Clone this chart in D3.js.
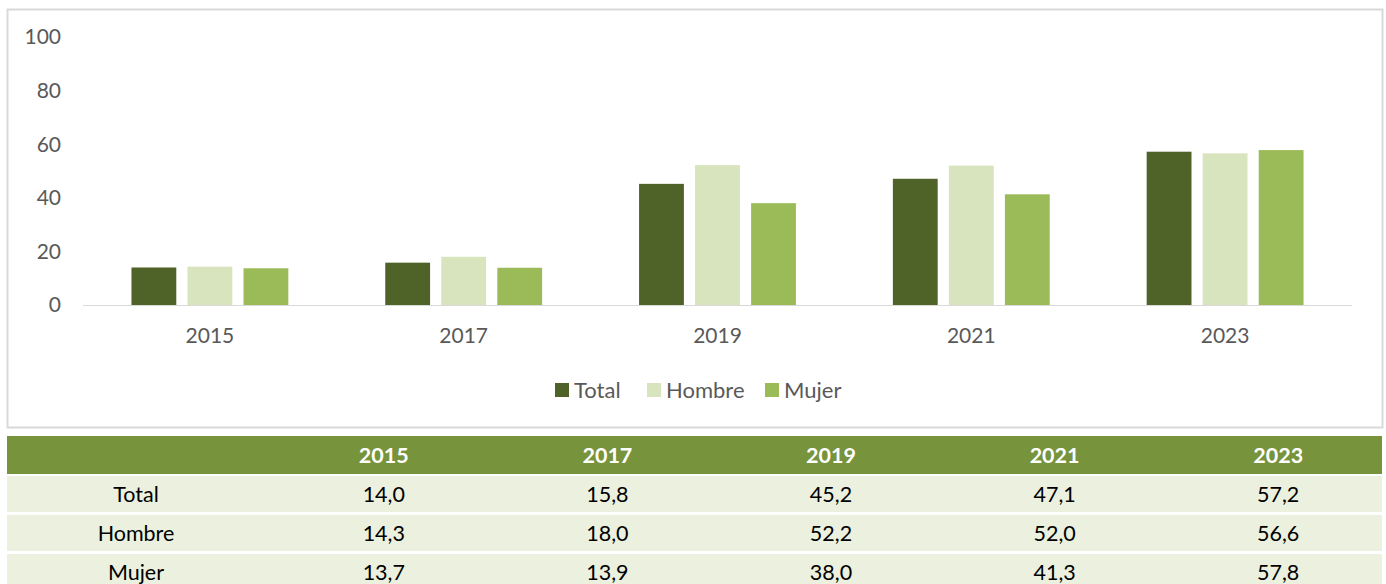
<!DOCTYPE html>
<meta charset="utf-8">
<style>
body { margin: 0; background: #fff; }
text { font-family: Lato, "Open Sans", sans-serif; }
.axis text { fill: #595959; font-size: 21px; }
.legend text { fill: #595959; font-size: 22px; }
.table text { font-size: 21.5px; fill: #000; }
.table .head text { fill: #fff; font-weight: bold; }
</style>
<svg width="1386" height="584"></svg>
<script src="https://d3js.org/d3.v7.min.js"></script>
<script>

var years = ["2015", "2017", "2019", "2021", "2023"];
var seriesNames = ["Total", "Hombre", "Mujer"];
var total  = [14.0, 15.8, 45.2, 47.1, 57.2];
var hombre = [14.3, 18.0, 52.2, 52.0, 56.6];
var mujer  = [13.7, 13.9, 38.0, 41.3, 57.8];
var colors = ["#4f6228", "#d7e4bd", "#9bbb59"];
var yTicks = [0, 20, 40, 60, 80, 100];

var values = [total, hombre, mujer];

var svg = d3.select("svg");

// chart frame
svg.append("rect")
    .attr("x", 7.5).attr("y", 9.5)
    .attr("width", 1375).attr("height", 418)
    .attr("fill", "#fff")
    .attr("stroke", "#d9d9d9")
    .attr("stroke-width", 2);

var x = d3.scaleBand().domain(years).range([83, 1352]);
var xs = d3.scaleBand().domain(seriesNames).range([0, x.bandwidth()])
    .paddingInner(0.2).paddingOuter(0.865);
var y = d3.scaleLinear().domain([0, 100]).range([305, 37]);

// y labels
svg.append("g").attr("class", "axis")
  .selectAll("text").data(yTicks).enter().append("text")
    .attr("x", 61)
    .attr("y", function(d) { return y(d); })
    .attr("dy", "0.35em")
    .attr("text-anchor", "end")
    .text(function(d) { return d; });

// bars
var groups = svg.append("g").selectAll("g")
    .data(years).enter().append("g")
    .attr("transform", function(d) { return "translate(" + x(d) + ",0)"; });

groups.selectAll("rect")
    .data(function(d, i) { return seriesNames.map(function(s, j) { return {s: s, v: values[j][i], c: colors[j]}; }); })
    .enter().append("rect")
    .attr("x", function(d) { return xs(d.s); })
    .attr("width", xs.bandwidth())
    .attr("y", function(d) { return y(d.v); })
    .attr("height", function(d) { return y(0) - y(d.v); })
    .attr("fill", function(d) { return d.c; });

// x axis line and labels
svg.append("line")
    .attr("x1", 83).attr("x2", 1352)
    .attr("y1", y(0) + 0.5).attr("y2", y(0) + 0.5)
    .attr("stroke", "#d9d9d9");

svg.append("g").attr("class", "axis")
  .selectAll("text").data(years).enter().append("text")
    .attr("x", function(d) { return x(d) + x.bandwidth() / 2; })
    .attr("y", 343)
    .attr("text-anchor", "middle")
    .text(function(d) { return d; });

// legend
var legendX = [555, 647, 765];
var legend = svg.append("g").attr("class", "legend")
  .selectAll("g").data(seriesNames).enter().append("g")
    .attr("transform", function(d, i) { return "translate(" + legendX[i] + ",383)"; });
legend.append("rect").attr("width", 14).attr("height", 14)
    .attr("fill", function(d, i) { return colors[i]; });
legend.append("text").attr("x", 19).attr("y", 7).attr("dy", "0.35em")
    .text(function(d) { return d; });

// table
var col = d3.scaleBand().domain(years).range([272, 1390]);
var rowY = d3.scaleBand().domain(["head"].concat(seriesNames)).range([436, 592]);
var table = svg.append("g").attr("class", "table");

var head = table.append("g").attr("class", "head");
head.append("rect")
    .attr("x", 7).attr("y", rowY("head"))
    .attr("width", 1375).attr("height", rowY.bandwidth() - 1)
    .attr("fill", "#77933c");
head.selectAll("text").data(years).enter().append("text")
    .attr("x", function(d) { return col(d) + col.bandwidth() / 2; })
    .attr("y", rowY("head") + rowY.bandwidth() / 2)
    .attr("dy", "0.35em")
    .attr("text-anchor", "middle")
    .text(function(d) { return d; });

var fmt = function(v) { return v.toFixed(1).replace(".", ","); };

var rows = table.selectAll("g.row").data(seriesNames).enter().append("g")
    .attr("class", "row")
    .attr("transform", function(d) { return "translate(0," + rowY(d) + ")"; });
rows.append("rect")
    .attr("x", 7).attr("y", 1)
    .attr("width", 1375).attr("height", rowY.bandwidth() - 3)
    .attr("fill", "#ebf1de");
rows.append("text")
    .attr("x", 136).attr("y", rowY.bandwidth() / 2)
    .attr("dy", "0.35em").attr("text-anchor", "middle")
    .text(function(d) { return d; });
rows.selectAll("text.val")
    .data(function(d, j) { return years.map(function(yr, i) { return {yr: yr, v: values[j][i]}; }); })
    .enter().append("text").attr("class", "val")
    .attr("x", function(d) { return col(d.yr) + col.bandwidth() / 2; })
    .attr("y", rowY.bandwidth() / 2)
    .attr("dy", "0.35em").attr("text-anchor", "middle")
    .text(function(d) { return fmt(d.v); });

</script>
